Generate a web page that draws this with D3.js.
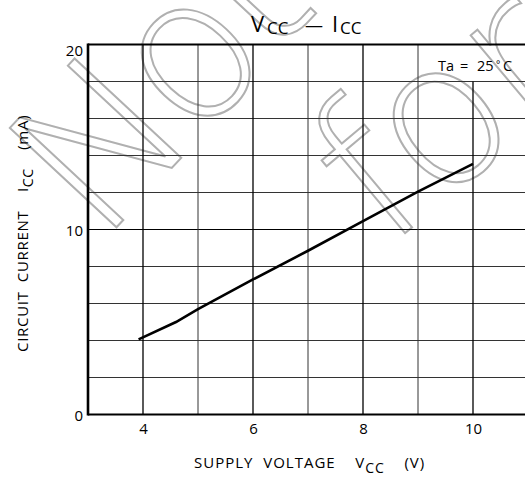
<!DOCTYPE html>
<html>
<head>
<meta charset="utf-8">
<script src="https://cdn.jsdelivr.net/npm/d3@7"></script>
<style>
  body { margin: 0; background: #fff; }
  svg { display: block; font-family: 'Open Sans', 'DejaVu Sans', sans-serif; }
</style>
</head>
<body>
<svg id="chart"></svg>
<script>
// supply voltage (V) and circuit current (mA)
const vcc = [3.92, 4.6, 5.0, 6, 7, 8, 9, 10]
const icc = [4.06, 5.0, 5.7, 7.3, 8.85, 10.45, 12.05, 13.55]

const xTicks = [4, 6, 8, 10]
const yTicks = [0, 10, 20]
const xGrid = [4, 5, 6, 7, 8, 9, 10, 11]
const yGrid = [2, 4, 6, 8, 10, 12, 14, 16, 18]

const width = 525, height = 477
const margin = {top: 44.5, right: -3, bottom: 62.5, left: 88}

const svg = d3.select('#chart')
  .attr('width', width)
  .attr('height', height)

const x = d3.scaleLinear()
  .domain([3, 11])
  .range([margin.left, width - margin.right])

const y = d3.scaleLinear()
  .domain([0, 20])
  .range([height - margin.bottom, margin.top])

// watermark, drawn first so the grid stays on top
const wm = svg.append('g')
  .attr('fill', 'none')
  .attr('stroke', '#b0b0b0')
  .attr('stroke-width', 2)
  .attr('font-family', "'DejaVu Sans', sans-serif")
  .attr('font-weight', 200)
  .attr('font-size', 200)

wm.append('text')
  .attr('transform', 'translate(100,245) rotate(-47)')
  .attr('letter-spacing', -12)
  .text('Not')
wm.append('text')
  .attr('transform', 'translate(385,250) rotate(-40)')
  .attr('letter-spacing', -6)
  .text('for')

// grid
const grid = svg.append('g')

grid.selectAll('.hg')
  .data(yGrid)
  .join('line')
    .attr('x1', x(3)).attr('x2', x(11))
    .attr('y1', d => y(d)).attr('y2', d => y(d))
    .attr('stroke', d => d === 10 ? '#000' : '#333')
    .attr('stroke-width', 1)

grid.selectAll('.vg')
  .data(xGrid)
  .join('line')
    .attr('x1', d => x(d)).attr('x2', d => x(d))
    // the Ta label sits in the top row, the 10 V line stops under it
    .attr('y1', d => d >= 10 ? y(18) : y(20))
    .attr('y2', y(0))
    .attr('stroke', d => d % 2 === 0 ? '#000' : '#333')
    .attr('stroke-width', d => d % 2 === 0 ? 1.3 : 1)

// frame
svg.append('line')
  .attr('x1', x(3)).attr('x2', x(11))
  .attr('y1', y(20)).attr('y2', y(20))
  .attr('stroke', '#000').attr('stroke-width', 1.8)
svg.append('line')
  .attr('x1', x(3)).attr('x2', x(11))
  .attr('y1', y(0)).attr('y2', y(0))
  .attr('stroke', '#000').attr('stroke-width', 2.2)
svg.append('line')
  .attr('x1', x(3)).attr('x2', x(3))
  .attr('y1', y(20) - 0.9).attr('y2', y(0) + 1.1)
  .attr('stroke', '#000').attr('stroke-width', 2.6)

// tick labels
svg.append('g')
  .attr('transform', 'translate(0,' + y(0) + ')')
  .call(d3.axisBottom(x).tickValues(xTicks).tickSize(0).tickPadding(9))
  .call(g => g.select('.domain').remove())
  .selectAll('text')
    .attr('font-size', 15)
    .attr('font-family', "'Open Sans', sans-serif")
    .attr('fill', '#000')

svg.append('g')
  .attr('transform', 'translate(' + x(3) + ',0)')
  .call(d3.axisLeft(y).tickValues(yTicks).tickSize(0).tickPadding(5))
  .call(g => g.select('.domain').remove())
  .selectAll('text')
    .attr('font-size', 15)
    .attr('font-family', "'Open Sans', sans-serif")
    .attr('fill', '#000')
    .attr('dy', d => d === 20 ? '0.75em' : '0.42em')

// curve
const line = d3.line()
  .x(d => x(d[0]))
  .y(d => y(d[1]))

svg.append('path')
  .datum(d3.zip(vcc, icc))
  .attr('d', line)
  .attr('fill', 'none')
  .attr('stroke', '#000')
  .attr('stroke-width', 2.6)

// title
const title = svg.append('text')
  .attr('y', 32)
  .attr('font-size', 22)
  .attr('fill', '#000')
title.append('tspan').attr('x', 251).text('V')
title.append('tspan').attr('x', 267).attr('font-size', 17).attr('dy', 1.5).text('CC')
title.append('tspan').attr('x', 305).attr('dy', -1.5).attr('font-size', 18).text('\u2014')
title.append('tspan').attr('x', 332).text('I')
title.append('tspan').attr('x', 340).attr('font-size', 17).attr('dy', 1.5).text('CC')

const ta = svg.append('text')
  .attr('y', 70.5)
  .attr('font-size', 14.5)
  .attr('fill', '#000')
ta.append('tspan').attr('x', 438).text('Ta')
ta.append('tspan').attr('x', 460).text('=')
ta.append('tspan').attr('x', 477).text('25')
ta.append('tspan').attr('x', 496).attr('font-size', 10).attr('dy', -3).text('\u00b0')
ta.append('tspan').attr('x', 503).attr('dy', 3).text('C')

// x title
const xt = svg.append('text')
  .attr('x', 194)
  .attr('y', 468)
  .attr('font-size', 15)
  .attr('letter-spacing', 1)
  .attr('xml:space', 'preserve')
  .attr('fill', '#000')
xt.append('tspan').text('SUPPLY  VOLTAGE    V')
xt.append('tspan').attr('font-size', 14).attr('dy', 5).text('CC')
xt.append('tspan').attr('dy', -5).text('    (V)')

// y title
const yt = svg.append('text')
  .attr('transform', 'translate(28,352) rotate(-90)')
  .attr('font-size', 15)
  .attr('letter-spacing', 0.7)
  .attr('xml:space', 'preserve')
  .attr('fill', '#000')
yt.append('tspan').text('CIRCUIT  CURRENT    I')
yt.append('tspan').attr('font-size', 14).attr('dy', 5).text('CC')
yt.append('tspan').attr('dy', -5).text('    (mA)')
</script>
</body>
</html>
